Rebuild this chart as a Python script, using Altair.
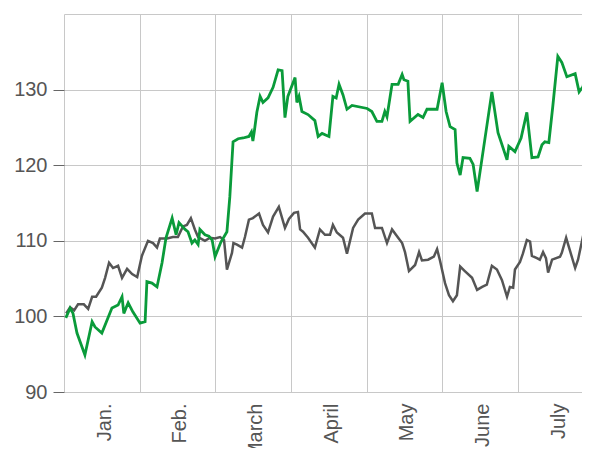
import altair as alt
import pandas as pd

months = ["Jan.", "Feb.", "March", "April", "May", "June", "July"]
month_start_days = [0, 21, 42, 63, 84, 105, 126]
y_ticks = [90, 100, 110, 120, 130, 140]

green_day = [0.5, 1.7, 2.5, 3.6, 5.8, 7.8, 8.6, 10.5, 13.3, 15.0, 16.1, 16.6, 17.8, 19.1,
             21.1, 22.5, 23.0, 24.4, 25.8, 27.2, 28.3, 30.0, 31.1, 31.9, 33.6, 34.4, 35.5,
             36.3, 37.2, 37.7, 39.1, 40.2, 41.1, 41.9, 43.5, 45.2, 46.0, 46.9, 48.3, 49.7,
             51.3, 52.0, 52.4, 52.8, 53.5, 54.4, 55.2, 56.6, 58.0, 59.4, 60.5, 61.3, 62.1,
             64.1, 64.6, 65.2, 66.0, 67.7, 69.6, 70.5, 71.6, 73.5, 74.6, 75.5, 76.3, 77.4,
             78.5, 79.9, 84.1, 85.4, 86.8, 88.2, 89.0, 89.6, 91.0, 92.7, 93.8, 94.3, 95.4,
             96.0, 98.2, 99.6, 100.7, 103.5, 104.9, 106.0, 107.1, 108.5, 109.0, 109.9,
             110.7, 112.6, 113.5, 114.6, 118.7, 120.4, 122.9, 123.4, 125.1, 126.8, 128.4,
             129.8, 131.5, 132.6, 133.4, 134.5, 135.6, 137.0, 138.1, 139.5, 141.8, 142.9,
             144.0, 144.5, 145.9]
green_val = [99.8, 101.1, 100.4, 97.8, 94.9, 99.3, 98.6, 97.8, 101.1, 101.5, 102.6, 100.4,
             101.8, 100.6, 99.1, 99.3, 104.6, 104.4, 103.9, 107.1, 110.4, 113.0, 110.8, 112.4,
             111.5, 111.2, 109.7, 110.1, 109.5, 111.5, 110.8, 110.6, 110.1, 107.9, 109.8,
             111.2, 115.8, 123.1, 123.5, 123.6, 123.8, 124.4, 123.2, 124.5, 127.0, 129.1,
             128.3, 128.9, 130.3, 132.6, 132.5, 126.3, 129.1, 131.6, 128.3, 129.1, 127.1,
             126.7, 125.9, 123.8, 124.2, 123.8, 129.1, 128.9, 130.7, 129.3, 127.4, 127.9,
             127.5, 127.1, 125.8, 125.8, 127.1, 126.4, 130.7, 130.7, 132.0, 131.3, 131.1,
             125.8, 126.7, 126.3, 127.4, 127.4, 130.9, 127.1, 125.1, 124.7, 120.3, 118.7,
             121.0, 120.9, 120.1, 116.5, 129.7, 124.3, 120.7, 122.5, 121.8, 123.6, 127.0,
             121.0, 121.1, 122.7, 123.1, 123.0, 127.8, 134.4, 133.6, 131.7, 132.1, 129.7,
             130.4, 132.0, 132.9]

gray_day = [0.6, 1.7, 2.8, 3.9, 5.5, 6.7, 7.8, 8.9, 10.5, 11.4, 12.5, 13.6, 15.0, 16.1, 17.5,
            18.9, 20.3, 21.6, 23.3, 24.7, 25.8, 26.6, 28.6, 30.2, 31.6, 33.0, 34.1, 35.2,
            36.3, 37.2, 39.1, 40.5, 41.9, 43.3, 44.4, 45.2, 46.6, 47.0, 48.0, 49.4, 50.2,
            51.3, 52.4, 54.1, 55.2, 56.6, 58.0, 59.6, 61.3, 62.4, 63.8, 64.9, 65.5, 66.3,
            67.7, 69.6, 71.0, 72.4, 73.8, 74.6, 75.7, 77.4, 78.5, 80.2, 81.6, 83.5, 85.4,
            86.3, 88.2, 89.6, 91.0, 92.7, 93.8, 94.6, 95.7, 97.4, 98.5, 99.3, 101.0, 102.6,
            103.5, 104.3, 105.7, 106.8, 107.9, 109.0, 109.9, 111.2, 113.2, 114.6, 116.0,
            117.3, 118.7, 120.1, 121.5, 122.9, 123.7, 124.6, 125.1, 126.5, 127.3, 128.4,
            129.3, 129.8, 131.2, 132.0, 132.9, 133.7, 134.3, 135.4, 137.6, 138.1, 139.3,
            141.8, 142.6, 144.2, 145.4, 145.9]
gray_val = [100.4, 101.2, 100.8, 101.6, 101.6, 101.0, 102.6, 102.6, 103.8, 105.1, 107.1,
            106.4, 106.7, 105.1, 106.3, 105.6, 105.2, 108.0, 110.0, 109.7, 109.1, 110.3,
            110.3, 110.5, 110.5, 111.9, 112.1, 113.0, 111.5, 110.5, 110.0, 110.4, 110.3,
            110.5, 110.1, 106.2, 108.4, 109.7, 109.5, 109.1, 110.5, 112.8, 113.0, 113.6,
            112.1, 111.1, 113.2, 114.5, 111.7, 112.9, 113.7, 113.8, 111.5, 111.2, 110.4,
            109.1, 111.5, 110.8, 110.8, 112.1, 111.1, 110.4, 108.3, 111.7, 112.8, 113.6,
            113.6, 111.7, 111.7, 109.7, 111.5, 110.4, 109.7, 108.5, 106.0, 106.8, 108.5,
            107.4, 107.5, 107.9, 108.9, 107.4, 104.4, 102.8, 102.0, 102.8, 106.6, 106.0,
            105.1, 103.5, 103.9, 104.2, 106.7, 106.2, 104.8, 102.6, 103.9, 103.8, 106.2,
            107.2, 108.3, 110.1, 109.9, 108.0, 107.7, 107.5, 108.5, 107.7, 105.8, 107.5,
            107.9, 108.4, 110.4, 106.4, 107.5, 111.1, 111.2, 111.5]

green_df = pd.DataFrame({"day": green_day, "value": green_val})
gray_df = pd.DataFrame({"day": gray_day, "value": gray_val})

label_expr = "[" + ",".join("'" + m + "'" for m in months) + "][round(datum.value / 21)]"

x_enc = alt.X(
    "day:Q",
    scale=alt.Scale(domain=[0, 143.7], nice=False, zero=False),
    axis=alt.Axis(
        values=month_start_days, title=None, grid=True, gridColor="#c8c8c8",
        gridWidth=1, ticks=False, domain=False, labelAngle=270, labelAlign="right",
        labelBaseline="middle", labelOffset=40, labelPadding=11, labelFlush=False,
        labelOverlap=False, labelExpr=label_expr, labelFont="Liberation Sans",
        labelFontSize=20, labelColor="#555555", labelBound=False,
    ),
)
y_enc = alt.Y(
    "value:Q",
    scale=alt.Scale(domain=[90, 140], nice=False, zero=False),
    axis=alt.Axis(
        values=y_ticks, title=None, grid=True, gridColor="#c8c8c8", gridWidth=1,
        domain=False, tickSize=11, tickColor="#666666", tickWidth=1,
        tickOpacity={"condition": {"test": "datum.value >= 140", "value": 0}, "value": 1},
        labelExpr="datum.value >= 140 ? '' : datum.label", labelPadding=6,
        labelFont="Liberation Sans", labelFontSize=20, labelColor="#555555",
    ),
)

gray_line = alt.Chart(gray_df).mark_line(color="#555555", strokeWidth=2.5, clip=True).encode(x=x_enc, y=y_enc)
green_line = alt.Chart(green_df).mark_line(color="#0a9b3a", strokeWidth=2.8, clip=True).encode(x=x_enc, y=y_enc)

chart = alt.layer(gray_line, green_line).properties(
    width=518, height=378,
    autosize=alt.AutoSizeParams(type="none"),
    padding={"left": 56, "top": 6, "right": 0, "bottom": 56},
).configure_view(stroke=None)

chart.save("out.html", embed_options={"renderer": "svg", "actions": False})
